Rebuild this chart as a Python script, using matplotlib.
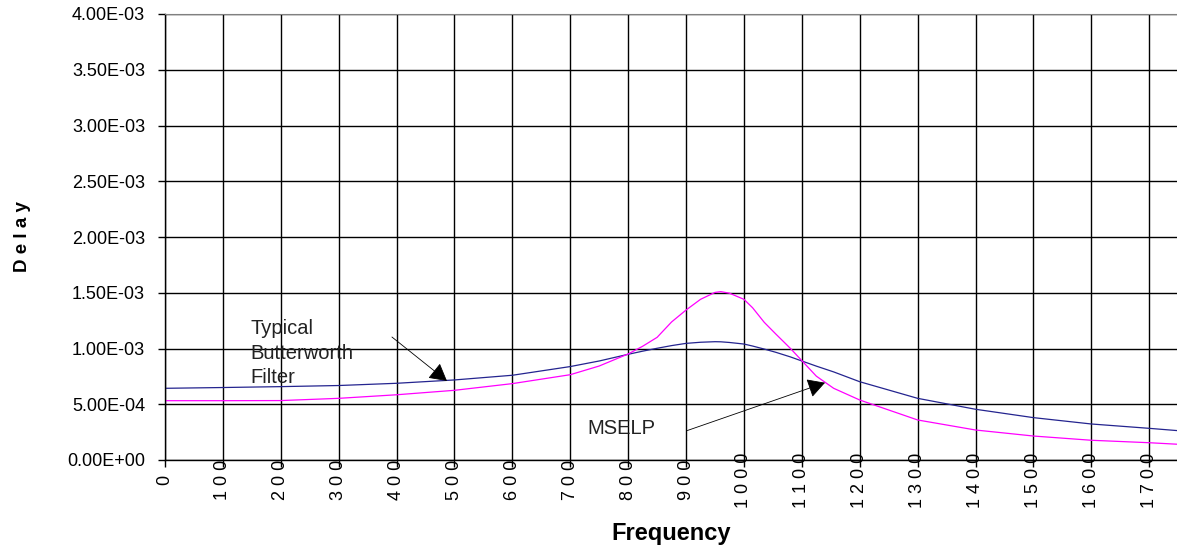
import matplotlib.pyplot as plt

plt.rcParams['font.family'] = ['Liberation Sans', 'DejaVu Sans']

# frequency points
freq = [0, 100, 200, 300, 400, 500, 600, 700, 750, 800, 825, 850, 875, 900, 925,
        950, 960, 975, 1000, 1015, 1035, 1055, 1080, 1100, 1125, 1155, 1200,
        1300, 1400, 1500, 1600, 1700, 1750]
# delay values (x1e-3)
butterworth = [0.643, 0.650, 0.658, 0.668, 0.688, 0.718, 0.760, 0.838, 0.888, 0.948,
               0.976, 1.002, 1.026, 1.046, 1.056, 1.061, 1.060, 1.054, 1.040, 1.022,
               0.995, 0.966, 0.925, 0.888, 0.842, 0.790, 0.702, 0.553, 0.455, 0.380,
               0.323, 0.284, 0.263]
mselp = [0.532, 0.532, 0.533, 0.553, 0.585, 0.625, 0.685, 0.765, 0.843, 0.951,
         1.020, 1.100, 1.238, 1.345, 1.441, 1.503, 1.510, 1.496, 1.441, 1.365,
         1.235, 1.130, 1.002, 0.891, 0.752, 0.643, 0.538, 0.359, 0.269, 0.215,
         0.177, 0.155, 0.141]

butterworth = [v * 1e-3 for v in butterworth]
mselp = [v * 1e-3 for v in mselp]

x_ticks = list(range(0, 1800, 100))
x_tick_labels = [' '.join(str(t)) for t in x_ticks]
y_ticks = [0, 0.5e-3, 1.0e-3, 1.5e-3, 2.0e-3, 2.5e-3, 3.0e-3, 3.5e-3, 4.0e-3]
y_tick_labels = ['0.00E+00', '5.00E-04', '1.00E-03', '1.50E-03', '2.00E-03',
                 '2.50E-03', '3.00E-03', '3.50E-03', '4.00E-03']

fig = plt.figure(figsize=(11.77, 5.48), dpi=100)
ax = fig.add_axes([165 / 1177, 88 / 548, 1012 / 1177, 446 / 548])

ax.plot(freq, butterworth, color='#24248f', lw=0.9)
ax.plot(freq, mselp, color='#ff00ff', lw=0.9)

ax.set_xlim(0, 1748)
ax.set_ylim(0, 4.0e-3)
ax.set_xticks(x_ticks)
ax.set_xticklabels(x_tick_labels, rotation=90, fontsize=13)
for lab in ax.get_xticklabels():
    lab.set_va('center')
ax.set_yticks(y_ticks)
ax.set_yticklabels(y_tick_labels, fontsize=13)

ax.tick_params(axis='x', length=5, width=1, pad=9.4, color='black')
ax.tick_params(axis='y', length=5, width=1, pad=9.4, color='black')

ax.grid(True, color='black', lw=1)
ax.set_axisbelow(True)
ax.spines['right'].set_visible(False)
ax.spines['top'].set_color('#808080')
ax.spines['left'].set_lw(1)
ax.spines['bottom'].set_lw(1)

ax.set_xlabel('Frequency', fontsize=17, fontweight='bold')
ax.set_ylabel('D e l a y', fontsize=13.5, fontweight='bold')
ax.yaxis.set_label_coords(-134 / 1012, 0.5)
ax.xaxis.set_label_coords(0.5, -62 / 446)

# annotations
ax.text(147, 1.265e-3, 'Typical\nButterworth\nFilter', fontsize=14.5,
        va='top', ha='left', linespacing=1.37, color='#222222')
ax.annotate('', xy=(487, 0.709e-3), xytext=(392, 1.103e-3),
            arrowprops=dict(arrowstyle='-|>,head_length=0.9,head_width=0.5',
                            mutation_scale=12, color='black', lw=0.6,
                            shrinkA=0, shrinkB=0))
ax.text(730, 0.28e-3, 'MSELP', fontsize=14.5, va='center', ha='left', color='#222222')
ax.annotate('', xy=(1140, 0.693e-3), xytext=(902, 0.264e-3),
            arrowprops=dict(arrowstyle='-|>,head_length=0.9,head_width=0.5',
                            mutation_scale=12, color='black', lw=0.6,
                            shrinkA=0, shrinkB=0))

plt.savefig('out.png', dpi=100)
